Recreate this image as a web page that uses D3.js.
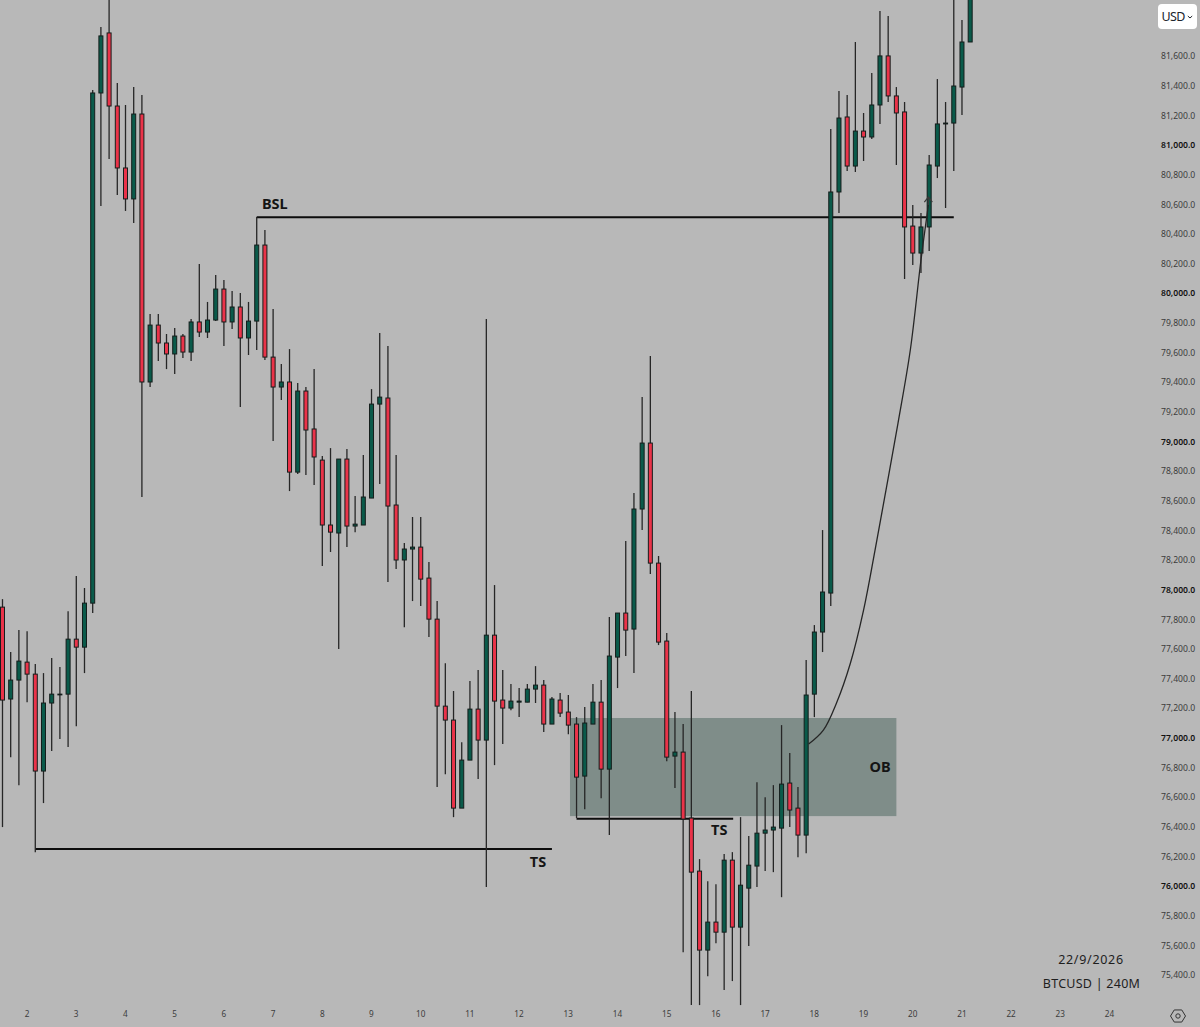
<!DOCTYPE html>
<html>
<head>
<meta charset="utf-8">
<script src="https://cdn.jsdelivr.net/npm/d3@7"></script>
<style>
    html, body { margin: 0; padding: 0; background: #b8b8b8; overflow: hidden; }
    svg { display: block; }
    text { font-family: "Noto Sans", sans-serif; }
</style>
</head>
<body>
<div id="chart"></div>
<script>
// candle values, one entry per 4h bar
var opens = [77882,77262,77390,77511,77430,76776,77235,77290,77295,77666,77612,77909,81351,81756,81263,80845,80636,81209,79401,79785,79664,79590,79711,79603,79806,79738,79819,80028,79806,79907,79698,79812,80325,79569,79367,79401,78793,79340,79084,78874,78436,78382,78881,78429,78436,78618,79252,79293,78571,78200,78274,78287,78078,77801,77214,77120,76526,76850,77194,76985,77693,77255,77201,77241,77241,77329,77356,77093,77255,77174,77093,76742,77093,77241,76789,77545,77842,77734,78544,78989,78179,77653,76877,76904,76459,76101,75568,75757,75689,76175,75723,75986,76135,76357,76378,76391,76695,76526,76344,77295,77714,77977,80683,81189,80858,81094,81054,81270,81601,81331,81223,80453,80271,80447,80858,81148,81148,81391,81695];
var closes = [77255,77390,77518,77430,76776,77235,77295,77295,77666,77612,77909,81351,81736,81263,80845,80636,81209,79401,79785,79664,79590,79711,79603,79806,79738,79819,80028,79806,79907,79698,79812,80325,79569,79367,79401,78793,79340,79077,78895,78436,78388,78881,78429,78442,78625,79252,79299,78564,78200,78274,78287,78071,77801,77214,77120,76526,76850,77194,76985,77693,77248,77201,77248,77248,77329,77356,77093,77262,77167,77086,76735,77100,77241,76789,77552,77842,77727,78544,78989,78179,77646,76870,76904,76452,76094,75568,75757,75689,76175,75723,76006,76141,76357,76378,76398,76688,76513,76344,77289,77714,77984,80683,81182,80858,81094,81054,81270,81601,81331,81216,80447,80271,80447,80865,81142,81142,81398,81695,82046];
var highs = [77936,77579,77727,77720,77498,77437,77538,77478,77855,78092,78011,81371,81796,82012,81418,81270,81391,81337,79860,79860,79725,79765,79725,79826,80197,79941,80123,80089,80015,80001,79941,80514,80426,79893,79522,79623,79394,79367,79488,78901,78955,78881,78949,78631,78908,79353,79731,79644,78908,78314,78490,78490,78186,77923,77504,77316,76971,77383,77457,79826,78031,77457,77363,77336,77363,77484,77390,77275,77302,77289,77140,77208,77363,77390,77815,77842,78328,78652,79299,79576,78227,77707,77174,77093,77316,76182,76033,76013,76216,76229,76465,76337,76701,76600,76681,77086,76897,76668,77525,77761,78402,81108,81364,81337,81695,81216,81486,81904,81870,81391,81290,80595,80541,80932,81445,81290,82012,81843,82080];
var lows = [76398,76870,76681,77241,76229,76560,76911,76992,76938,77079,77437,77842,80588,80906,80663,80555,80474,78625,79367,79542,79488,79455,79563,79542,79704,79698,79812,79644,79758,79232,79583,79617,79549,79003,79279,78665,78780,78773,78706,78159,78254,77599,78287,78388,78436,78618,78712,78051,78139,77747,77923,77889,77680,76668,76755,76465,76526,76850,76722,75993,76816,76958,77187,77140,77241,77235,77039,77093,77140,77025,76459,76519,77093,76593,76344,77336,77552,77437,78402,78105,77626,76843,76661,75554,75197,75197,75392,75615,75298,75359,75197,75595,75993,76101,76094,75925,76398,76195,76222,77140,77579,77889,80541,80825,80818,80892,81040,81142,81290,80865,80096,80190,80136,80285,80777,80575,80825,81202,81695];

// axis ticks
var priceTicks = d3.range(75400, 81601, 200);
var dayTicks = d3.range(2, 25);

// annotations: candle index + price
var firstBarDay = 1.512;
var hLines = [
    { from: 31, to: 116, price: 80512 },
    { from: 4, to: 67, price: 76250 },
    { from: 70, to: 89.1, price: 76455 }
];
var obZone = { from: 69.2, to: 109, top: 77134, bottom: 76472 };
var curveBars = [98.3, 100.1, 101.7, 103.4, 105, 106.4, 107.8, 109.2, 110.7, 112, 112.9];
var curvePrices = [76958, 77052, 77235, 77505, 77862, 78267, 78692, 79124, 79617, 80224, 80595];
var labels = [
    { text: 'BSL', bar: 33.2, price: 80568 },
    { text: 'TS', bar: 65.3, price: 76128 },
    { text: 'TS', bar: 87.4, price: 76344 },
    { text: 'OB', bar: 107, price: 76769 }
];

var attrs = {
    svgWidth: 1200,
    svgHeight: 1027,
    background: '#b8b8b8',
    up: '#0a5a4a',
    down: '#ea3349',
    outline: '#141d1b',
    wick: '#262626',
    zone: '#7f8d89'
};

var svg = d3.select('#chart')
    .append('svg')
    .attr('width', attrs.svgWidth)
    .attr('height', attrs.svgHeight);

svg.append('rect')
    .attr('width', attrs.svgWidth)
    .attr('height', attrs.svgHeight)
    .attr('fill', attrs.background);

// scales
var x = d3.scaleLinear().domain([2, 24]).range([26.5, 1109]);
var y = d3.scaleLinear().domain([75400, 81000]).range([975, 145]);
var barX = function (i) { return x(firstBarDay + i / 6); };

var bars = opens.map(function (o, i) {
    return { i: i, open: o, close: closes[i], high: highs[i], low: lows[i] };
});

// order block
svg.append('rect')
    .attr('x', barX(obZone.from))
    .attr('width', barX(obZone.to) - barX(obZone.from))
    .attr('y', y(obZone.top))
    .attr('height', y(obZone.bottom) - y(obZone.top))
    .attr('fill', attrs.zone);

// liquidity lines
svg.selectAll('.level')
    .data(hLines)
    .enter()
    .append('line')
    .attr('class', 'level')
    .attr('x1', d => barX(d.from))
    .attr('x2', d => barX(d.to))
    .attr('y1', d => y(d.price))
    .attr('y2', d => y(d.price))
    .attr('stroke', '#0d0d0d')
    .attr('stroke-width', 2);

// candles
var candle = svg.selectAll('.candle')
    .data(bars)
    .enter()
    .append('g')
    .attr('class', 'candle');

candle.append('line')
    .attr('x1', d => barX(d.i))
    .attr('x2', d => barX(d.i))
    .attr('y1', d => y(d.high))
    .attr('y2', d => y(d.low))
    .attr('stroke', attrs.wick)
    .attr('stroke-width', 1.3);

candle.append('rect')
    .attr('x', d => barX(d.i) - 2)
    .attr('width', 4)
    .attr('y', d => y(Math.max(d.open, d.close)))
    .attr('height', d => Math.max(0.6, Math.abs(y(d.open) - y(d.close))))
    .attr('fill', d => d.close >= d.open ? attrs.up : attrs.down)
    .attr('stroke', attrs.outline)
    .attr('stroke-width', 1);

// curved arrow from the order block up to the BSL
var curvePoints = curveBars.map((b, i) => [barX(b), y(curvePrices[i])]);
var curveLine = d3.line().curve(d3.curveCatmullRom.alpha(0.5));

svg.append('path')
    .attr('d', curveLine(curvePoints))
    .attr('fill', 'none')
    .attr('stroke', '#262626')
    .attr('stroke-width', 1.3);

var tip = curvePoints[curvePoints.length - 1];
svg.append('path')
    .attr('d', d3.line()([[tip[0] - 4, tip[1] - 3], [tip[0], tip[1] - 8], [tip[0] + 4, tip[1] - 3]]))
    .attr('fill', 'none')
    .attr('stroke', '#3a3a3a')
    .attr('stroke-width', 1.2);
svg.append('line')
    .attr('x1', tip[0]).attr('y1', tip[1])
    .attr('x2', tip[0]).attr('y2', tip[1] - 8)
    .attr('stroke', '#3a3a3a')
    .attr('stroke-width', 1.2);

// annotation labels
svg.selectAll('.note')
    .data(labels)
    .enter()
    .append('text')
    .attr('class', 'note')
    .attr('x', d => barX(d.bar))
    .attr('y', d => y(d.price))
    .attr('text-anchor', 'middle')
    .attr('font-size', 14.5)
    .attr('font-weight', 700)
    .attr('fill', '#141414')
    .text(d => d.text);

// price axis
var yAxis = svg.append('g')
    .attr('transform', 'translate(1161,0)')
    .call(d3.axisRight(y).tickValues(priceTicks).tickSize(0).tickPadding(0).tickFormat(d3.format(',.1f')));
yAxis.select('.domain').remove();
yAxis.selectAll('text')
    .attr('font-family', '"Noto Sans", sans-serif')
    .attr('font-size', 8.6)
    .attr('fill', d => d % 1000 === 0 ? '#111111' : '#3c3c3c')
    .attr('font-weight', d => d % 1000 === 0 ? 600 : 400);

// day axis
var xAxis = svg.append('g')
    .attr('transform', 'translate(0,1011)')
    .call(d3.axisBottom(x).tickValues(dayTicks).tickSize(0).tickPadding(0).tickFormat(d3.format('d')));
xAxis.select('.domain').remove();
xAxis.selectAll('text')
    .attr('font-family', '"Noto Sans", sans-serif')
    .attr('font-size', 8.2)
    .attr('fill', '#3c3c3c');

// currency button
svg.append('rect')
    .attr('x', 1158).attr('y', 4)
    .attr('width', 39).attr('height', 25)
    .attr('rx', 4)
    .attr('fill', '#ffffff');
svg.append('text')
    .attr('x', 1161.5).attr('y', 21)
    .attr('font-size', 12.5)
    .attr('letter-spacing', -0.6)
    .attr('fill', '#20242c')
    .text('USD');
svg.append('path')
    .attr('d', 'M1187.8 16 L1190 18 L1192.2 16')
    .attr('fill', 'none')
    .attr('stroke', '#20242c')
    .attr('stroke-width', 1);

// date and symbol stamp
svg.append('text')
    .attr('x', 1091).attr('y', 964)
    .attr('text-anchor', 'middle')
    .attr('font-size', 12.5)
    .attr('letter-spacing', 0.7)
    .attr('fill', '#1e1e1e')
    .text('22/9/2026');
svg.append('text')
    .attr('x', 1091.5).attr('y', 988)
    .attr('text-anchor', 'middle')
    .attr('font-size', 12.5)
    .attr('letter-spacing', 0.25)
    .attr('fill', '#1e1e1e')
    .text('BTCUSD | 240M');

// settings icon
var hexagon = d3.range(6).map(i => {
    var a = Math.PI / 3 * i;
    return [1178 + 7.5 * Math.cos(a), 1016 + 7 * Math.sin(a)];
});
svg.append('path')
    .attr('d', d3.line().curve(d3.curveLinearClosed)(hexagon))
    .attr('fill', 'none')
    .attr('stroke', '#333333')
    .attr('stroke-width', 1);
svg.append('circle')
    .attr('cx', 1178).attr('cy', 1016).attr('r', 2.2)
    .attr('fill', 'none')
    .attr('stroke', '#333333')
    .attr('stroke-width', 1);
</script>
</body>
</html>
